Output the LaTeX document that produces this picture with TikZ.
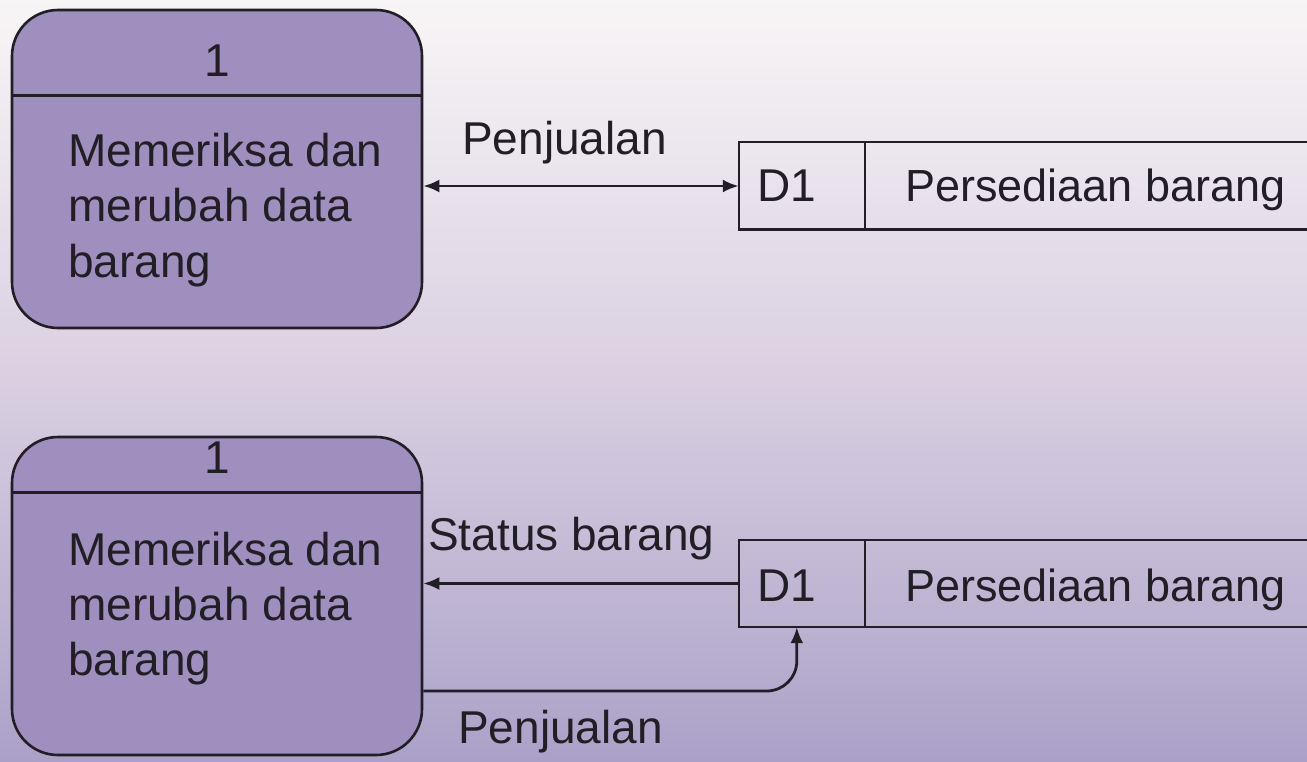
\documentclass[tikz,border=0pt]{standalone}
\usepackage{fontspec}
\setmainfont{Liberation Sans}
\usetikzlibrary{arrows.meta}
\definecolor{bgtop}{RGB}{248,245,246}
\definecolor{bgmid}{RGB}{217,207,225}
\definecolor{bgbot}{RGB}{171,161,200}
\definecolor{procfill}{RGB}{158,143,191}
\definecolor{ink}{RGB}{34,30,38}
\begin{document}
\begin{tikzpicture}[x=1pt,y=-1pt,
  proc/.style={draw=ink, line width=2.6pt, fill=procfill, rounded corners=46pt, minimum width=410pt, minimum height=318pt, inner sep=0pt},
  store/.style={draw=none, minimum width=570pt, minimum height=87pt, inner sep=0pt},
  storeline/.style={draw=ink, line width=2.4pt},
  headline/.style={draw=ink, line width=3pt},
  txt/.style={font=\fontsize{46}{55}\selectfont, text=ink, inner sep=0pt},
  flow/.style={draw=ink, line width=2.8pt, -{Latex[length=16pt,width=13pt]}},
  bflow/.style={draw=ink, line width=2.8pt, {Latex[length=16pt,width=13pt]}-{Latex[length=16pt,width=13pt]}},
  ]
\shade[top color=bgtop, bottom color=bgbot, middle color=bgmid] (0,0) rectangle (1307,762);
\useasboundingbox (0,0) rectangle (1307,762);

% ---------- upper diagram ----------
\node[proc] (p1) at (217,169) {};
\draw[headline] (p1.west |- 0,96) -- (p1.east |- 0,96);
\node[txt, anchor=base] (p1num) at (217,77) {1};
\node[txt, anchor=base west] (p1a) at (68,167) {Memeriksa dan};
\node[txt, anchor=base west] (p1b) at (68,222) {merubah data};
\node[txt, anchor=base west] (p1c) at (68,277) {barang};

\node[store] (s1) at (1024,186) {};
\draw[storeline] (s1.north east) -- (s1.north west) -- (s1.south west) -- (s1.south east);
\draw[storeline] ([xshift=126pt]s1.north west) -- ([xshift=126pt]s1.south west);
\node[txt, anchor=base west] (s1id) at (757,202) {D1};
\node[txt, anchor=base west, font=\fontsize{45}{55}\selectfont] (s1name) at (905,202) {Persediaan barang};

\draw[bflow] (p1.east |- s1.west) -- (s1.west);
\node[txt, anchor=base west] (l1) at (462,155) {Penjualan};

% ---------- lower diagram ----------
\node[proc] (p2) at (217,596) {};
\draw[headline] (p2.west |- 0,492) -- (p2.east |- 0,492);
\node[txt, anchor=base] (p2num) at (217,473) {1};
\node[txt, anchor=base west] (p2a) at (68,565) {Memeriksa dan};
\node[txt, anchor=base west] (p2b) at (68,620) {merubah data};
\node[txt, anchor=base west] (p2c) at (68,675) {barang};

\node[store] (s2) at (1024,583.5) {};
\draw[storeline] (s2.north east) -- (s2.north west) -- (s2.south west) -- (s2.south east);
\draw[storeline] ([xshift=126pt]s2.north west) -- ([xshift=126pt]s2.south west);
\node[txt, anchor=base west] (s2id) at (757,601) {D1};
\node[txt, anchor=base west, font=\fontsize{45}{55}\selectfont] (s2name) at (905,601) {Persediaan barang};

\draw[flow] (s2.west) -- (p2.east |- s2.west);
\node[txt, anchor=base west] (l2) at (428,550) {Status barang};

\draw[flow, rounded corners=30pt] ([yshift=-95pt]p2.east) -| ([xshift=58pt]s2.south west);
\node[txt, anchor=base west] (l3) at (458,743) {Penjualan};
\end{tikzpicture}
\end{document}
